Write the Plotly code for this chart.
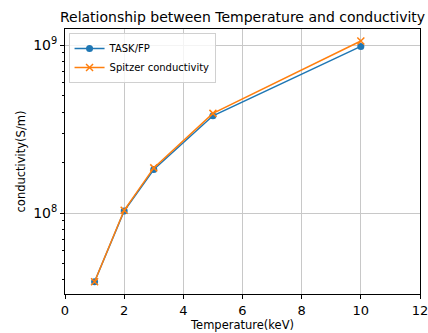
import plotly.graph_objects as go

temperature = [1, 2, 3, 5, 10]
task_fp = [3.9e7, 1.03e8, 1.82e8, 3.8e8, 9.85e8]
spitzer = [3.9e7, 1.04e8, 1.86e8, 3.93e8, 1.06e9]
x_ticks = [0, 2, 4, 6, 8, 10, 12]
y_major = [1e8, 1e9]
y_major_text = ["10<sup>8</sup>", "10<sup>9</sup>"]
y_minor = [4e7, 5e7, 6e7, 7e7, 8e7, 9e7, 2e8, 3e8, 4e8, 5e8, 6e8, 7e8, 8e8, 9e8]

BLUE = "#1f77b4"
ORANGE = "#ff7f0e"
FONT = "DejaVu Sans"

fig = go.Figure()
fig.add_trace(go.Scatter(
    x=temperature, y=task_fp, name="TASK/FP", mode="lines+markers",
    line=dict(color=BLUE, width=1.5),
    marker=dict(symbol="circle", size=7, color=BLUE),
))
fig.add_trace(go.Scatter(
    x=temperature, y=spitzer, name="Spitzer conductivity", mode="lines+markers",
    line=dict(color=ORANGE, width=1.5),
    marker=dict(symbol="x-thin", size=7, color=ORANGE, line=dict(color=ORANGE, width=1.5)),
))
# invisible trace to carry the minor-tick axis
fig.add_trace(go.Scatter(
    x=temperature, y=task_fp, yaxis="y2", mode="markers", showlegend=False,
    hoverinfo="skip", marker=dict(opacity=0),
))

yrange = [7.518, 9.097]

fig.update_layout(
    width=428, height=333,
    margin=dict(l=65, r=8, t=29, b=39, autoexpand=False),
    paper_bgcolor="white", plot_bgcolor="white",
    font=dict(family=FONT, color="#000000"),
    title=dict(text="Relationship between Temperature and conductivity",
               x=0.5667, xanchor="center", y=0.948, yanchor="middle",
               font=dict(size=14, family=FONT, color="#000000")),
    xaxis=dict(
        range=[0, 12], tickvals=x_ticks, ticktext=[str(v) for v in x_ticks],
        showgrid=True, gridcolor="#c8c8c8", gridwidth=1,
        showline=True, linecolor="#000000", linewidth=1, mirror=True,
        ticks="outside", ticklen=4, tickcolor="#000000",
        tickfont=dict(size=13, family=FONT), ticklabeloverflow="allow",
        zeroline=False, automargin=False,
        title=dict(text="Temperature(keV)", font=dict(size=11.5, family=FONT), standoff=4),
    ),
    yaxis=dict(
        type="log", range=yrange, tickvals=y_major, ticktext=y_major_text,
        showgrid=True, gridcolor="#c8c8c8", gridwidth=1,
        showline=True, linecolor="#000000", linewidth=1, mirror=True,
        ticks="outside", ticklen=4, tickcolor="#000000",
        tickfont=dict(size=14, family=FONT), ticklabeloverflow="allow",
        zeroline=False, automargin=False,
        title=dict(text="conductivity(S/m)", font=dict(size=11.5, family=FONT), standoff=5),
    ),
    yaxis2=dict(
        type="log", range=yrange, overlaying="y", side="left",
        tickvals=y_minor, showticklabels=False, showgrid=False,
        ticks="outside", ticklen=2, tickcolor="#000000",
        showline=False, zeroline=False, automargin=False,
    ),
    legend=dict(
        x=0.01, y=0.985, xanchor="left", yanchor="top",
        bgcolor="rgba(255,255,255,0.8)", bordercolor="#d0d0d0", borderwidth=1,
        font=dict(size=10, family=FONT), itemwidth=30, tracegroupgap=0,
    ),
)

fig.write_html("out.html", config={"displayModeBar": False},
               post_script="document.body.style.margin='0';")
